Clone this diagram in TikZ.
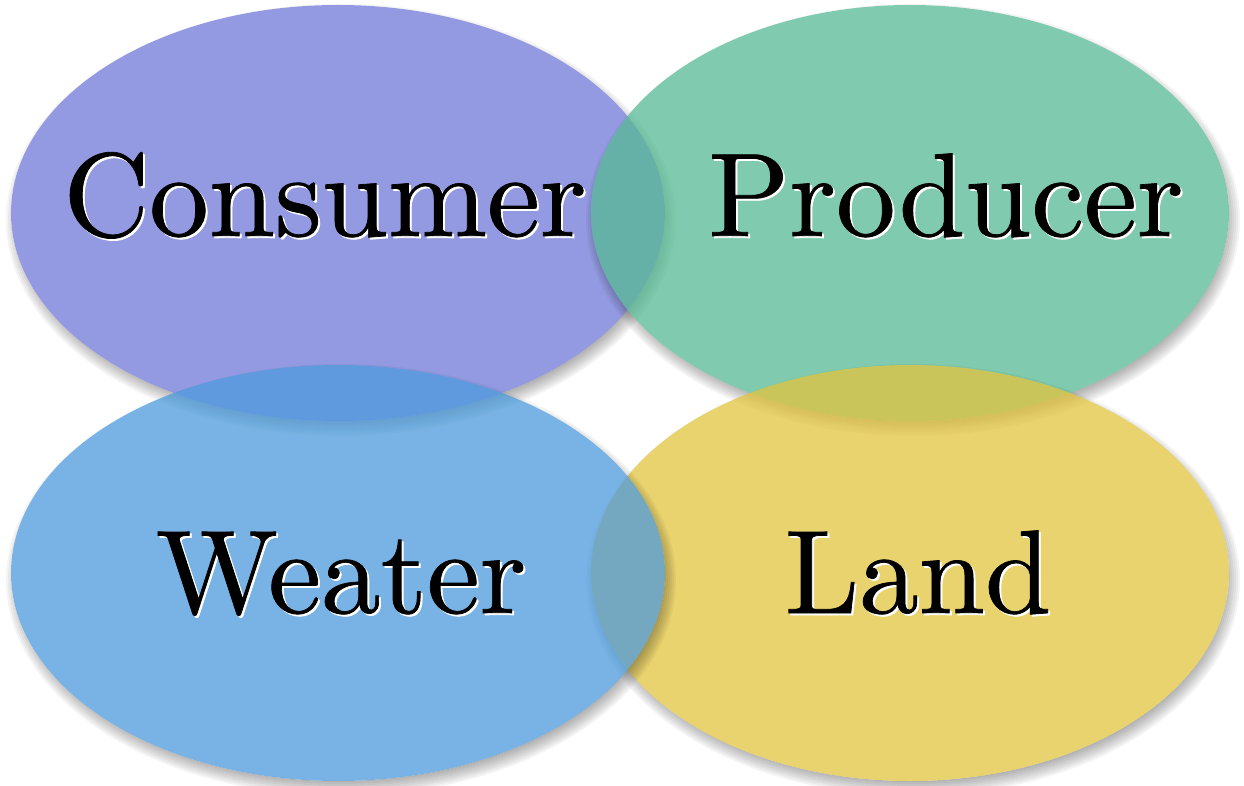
\documentclass[tikz,border=0pt]{standalone}
\usepackage{fontspec}
\newfontfamily\lmten[Extension=.otf, FakeBold=0.6]{lmroman10-regular}
\definecolor{cPurple}{RGB}{112,120,216}
\definecolor{cGreen}{RGB}{86,186,148}
\definecolor{cBlue}{RGB}{76,154,220}
\definecolor{cYellow}{RGB}{226,196,62}
\newcommand\vennblob[5]{%
  \begin{scope}[even odd rule]
    \clip (-60,-60) rectangle (1320,860) (#1,#2) ellipse [x radius=#3pt, y radius=#4pt];
    \foreach \d in {-8,-6,...,8}
      \fill[black, opacity=0.045] (#1+3,#2+7) ellipse [x radius=#3pt+\d pt, y radius=#4pt+\d pt];
  \end{scope}
  \fill[#5, opacity=0.75] (#1,#2) ellipse [x radius=#3pt, y radius=#4pt];
}
\begin{document}
\begin{tikzpicture}[x=1pt,y=-1pt,
  lbl/.style={font=\lmten\fontsize{119}{130}\selectfont, inner sep=0pt, anchor=base, text=black},
  lblshadow/.style={lbl, text=white}]
\useasboundingbox (0,0) rectangle (1244,786);
\vennblob{338}{213}{327}{208}{cPurple}
\vennblob{910}{213}{319}{208}{cGreen}
\vennblob{910}{573}{319}{208}{cYellow}
\vennblob{338}{573}{327}{208}{cBlue}
\node[lblshadow] (consumerS) at (327,238) {Consumer};
\node[lbl] (consumer) at (325,236) {Consumer};
\node[lblshadow] (producerS) at (948,238) {Producer};
\node[lbl] (producer) at (946,236) {Producer};
\node[lblshadow] (weaterS) at (343,615) {Weater};
\node[lbl] (weater) at (341,613) {Weater};
\node[lblshadow] (landS) at (920,615) {Land};
\node[lbl] (land) at (918,613) {Land};
\end{tikzpicture}
\end{document}
